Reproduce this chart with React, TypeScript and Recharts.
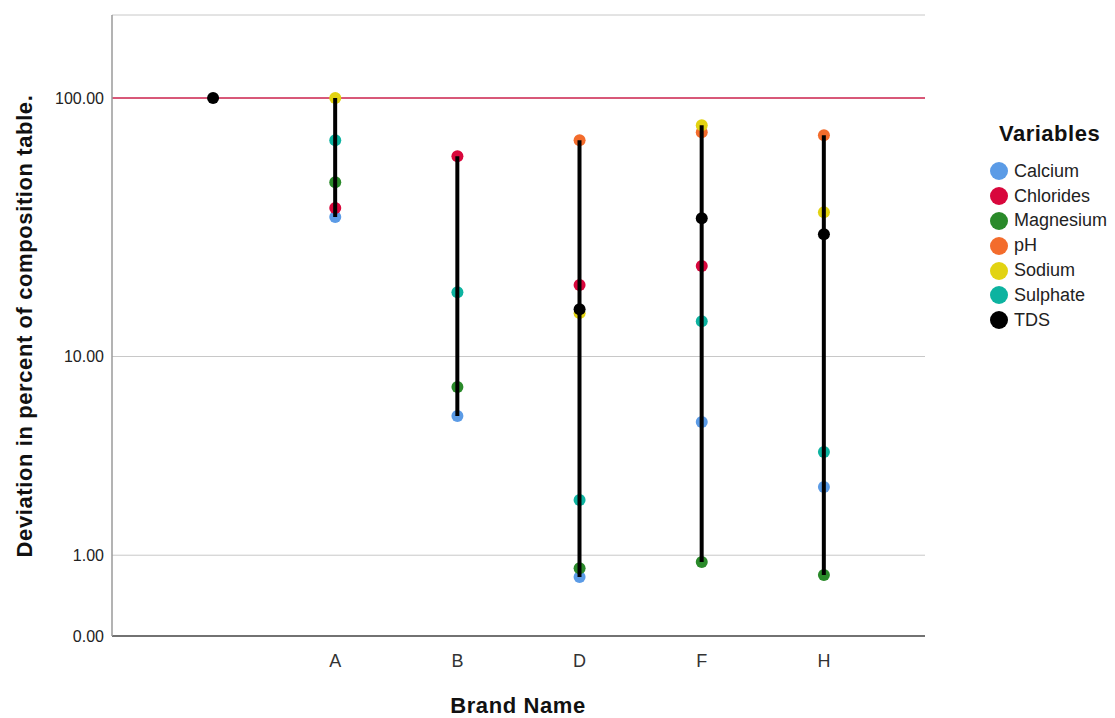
import {
  Bar,
  CartesianGrid,
  ComposedChart,
  ReferenceLine,
  Scatter,
  XAxis,
  YAxis,
} from 'recharts'

const brands = ['', 'A', 'B', 'D', 'F', 'H']

const calcium = [null, 35.4, 5.6, 0.66, 5.27, 2.59]
const chlorides = [null, 38.3, 60.3, 19.3, 22.9, null]
const magnesium = [null, 48.1, 7.46, 0.79, 0.887, 0.687]
const ph = [null, null, null, 69.4, 74.4, 72.4]
const sodium = [null, 100, null, 14.96, 79, 36.9]
const sulphate = [null, 69.4, 18.1, 2.21, 13.9, 3.85]
const tds = [100, null, null, 15.5, 35.0, 30.4]

const yTicks = [0, 1, 10, 100]

const FONT = '"Liberation Sans", Arial, sans-serif'

const series = [
  { name: 'Calcium', values: calcium, color: '#5b9be6' },
  { name: 'Chlorides', values: chlorides, color: '#d8073c' },
  { name: 'Magnesium', values: magnesium, color: '#2a8a2a' },
  { name: 'pH', values: ph, color: '#f36c2c' },
  { name: 'Sodium', values: sodium, color: '#e2d312' },
  { name: 'Sulphate', values: sulphate, color: '#0db3a0' },
  { name: 'TDS', values: tds, color: '#000000' },
]

const rows = brands.map((brand, i) => {
  const row: Record<string, any> = { brand }
  const vals: number[] = []
  series.forEach((s) => {
    row[s.name] = s.values[i]
    if (s.values[i] != null) vals.push(s.values[i] as number)
  })
  row.range = vals.length > 1 ? [Math.min(...vals), Math.max(...vals)] : null
  return row
})

function dot(color: string) {
  return (props: any) =>
    props.cx == null || props.cy == null || isNaN(props.cy) ? <g /> : (
      <circle cx={props.cx} cy={props.cy} r={6} fill={color} />
    )
}

export default function App() {
  return (
    <div style={{ position: 'absolute', left: 0, top: 0, width: 1115, height: 718, fontFamily: FONT }}>
      <ComposedChart
        width={1115}
        height={718}
        data={rows}
        margin={{ top: 15, right: 190, left: 52, bottom: 0 }}
      >
        <CartesianGrid stroke="#c8c8c8" vertical={false} />
        <XAxis
          dataKey="brand"
          type="category"
          allowDuplicatedCategory={false}
          height={82}
          padding={{ left: 40, right: 40 }}
          tickLine={false}
          tickSize={0}
          tickMargin={18}
          axisLine={{ stroke: '#4d4d4d', strokeWidth: 1.5 }}
          tick={{ fill: '#333', fontSize: 18, fontFamily: FONT }}
        />
        <YAxis
          scale="symlog"
          domain={[0, 205]}
          ticks={yTicks}
          allowDataOverflow
          width={60}
          tickLine={false}
          tickSize={0}
          tickMargin={8}
          axisLine={{ stroke: '#9a9a9a', strokeWidth: 1.5 }}
          tick={{ fill: '#222', fontSize: 16, fontFamily: FONT }}
          tickFormatter={(v: number) => v.toFixed(2)}
        />
        <ReferenceLine y={100} stroke="#d42a55" strokeWidth={1.5} />
        {series.map((s) => (
          <Scatter
            key={s.name}
            name={s.name}
            data={rows.filter((r) => r[s.name] != null)}
            dataKey={s.name}
            fill={s.color}
            shape={dot(s.color)}
            isAnimationActive={false}
          />
        ))}
        <Bar dataKey="range" barSize={4} fill="#000" isAnimationActive={false} zIndex={700} />
      </ComposedChart>

      <div
        style={{
          position: 'absolute',
          left: 25,
          top: 326,
          transform: 'translate(-50%, -50%) rotate(-90deg)',
          whiteSpace: 'nowrap',
          fontWeight: 'bold',
          fontSize: 22,
          letterSpacing: 0.6,
          color: '#111',
        }}
      >
        Deviation in percent of composition table.
      </div>
      <div
        style={{
          position: 'absolute',
          left: 518,
          top: 706,
          transform: 'translate(-50%, -50%)',
          whiteSpace: 'nowrap',
          fontWeight: 'bold',
          fontSize: 22,
          letterSpacing: 0.6,
          color: '#111',
        }}
      >
        Brand Name
      </div>

      <div style={{ position: 'absolute', left: 990, top: 121 }}>
        <div style={{ fontWeight: 'bold', fontSize: 22, letterSpacing: 0.5, color: '#111', marginLeft: 9, marginBottom: 12 }}>
          Variables
        </div>
        {series.map((s) => (
          <div key={s.name} style={{ display: 'flex', alignItems: 'center', height: 24.8 }}>
            <span
              style={{
                display: 'inline-block',
                width: 18,
                height: 18,
                borderRadius: 9,
                background: s.color,
                marginRight: 6,
              }}
            />
            <span style={{ fontSize: 18, color: '#222' }}>{s.name}</span>
          </div>
        ))}
      </div>
    </div>
  )
}
